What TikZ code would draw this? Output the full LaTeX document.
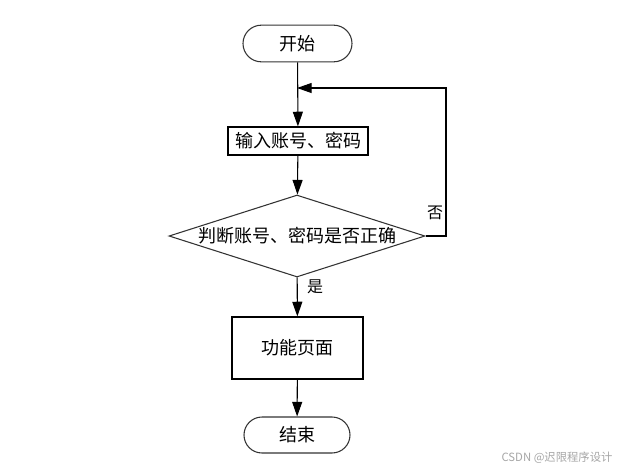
\documentclass[tikz,border=0pt]{standalone}
\usepackage{fontspec}
\setmainfont{Noto Sans CJK SC}
\newfontfamily\cjk{Noto Sans CJK SC}
\usetikzlibrary{arrows.meta,shapes.geometric,shapes.misc}
\begin{document}
\begin{tikzpicture}[x=0.75pt,y=-0.75pt,
  every node/.style={font=\cjk\fontsize{13.5pt}{15pt}\selectfont, text=black},
  term/.style={draw=black!80, line width=0.8pt, rounded rectangle, minimum width=81.75pt, minimum height=27.5pt, inner sep=0pt},
  procbox/.style={draw=black, line width=0.9pt, rectangle, inner sep=0pt},
  decision/.style={draw=black!80, line width=0.8pt, diamond, aspect=3.12, minimum width=192pt, minimum height=61.5pt, inner sep=0pt},
  conn/.style={line width=0.8pt, -{Triangle[length=11pt,width=7.5pt]}},
  lab/.style={font=\cjk\fontsize{12pt}{13pt}\selectfont}
]
\useasboundingbox (0,0) rectangle (621,469);
\node[term] (start) at (297.5,43.5) {开始};
\node[procbox, minimum width=105pt, minimum height=21pt] (input) at (298,141) {输入账号、密码};
\node[decision] (dec) at (297,236) {判断账号、密码是否正确};
\node[procbox, minimum width=98.25pt, minimum height=46.5pt] (func) at (297.5,348) {功能页面};
\node[term, minimum width=79.5pt, minimum height=27pt] (end) at (297,435) {结束};
\coordinate (loopR) at (446,88);
\coordinate (loopL) at (297,88);
\draw[conn] (start) -- (input);
\draw[conn] (input) -- (dec);
\draw[conn] (dec) -- (func);
\draw[conn] (func) -- (end);
\draw[conn] (dec.east) -| (loopR) -- (loopL);
\node[lab] (no) at (435,213) {否};
\node[lab] (yes) at (315,287) {是};
\node[font=\cjk\fontsize{8.5pt}{10pt}\selectfont, text=black!35] (wm) at (557,458) {CSDN @迟限程序设计};
\end{tikzpicture}
\end{document}
